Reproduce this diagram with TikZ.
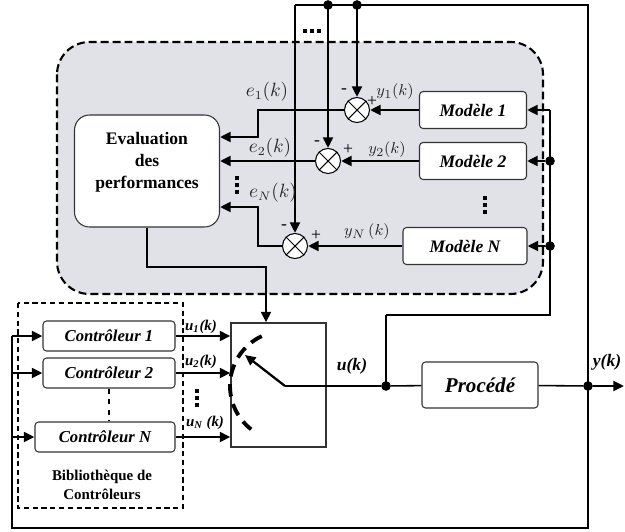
\documentclass[tikz,border=0pt]{standalone}
\usepackage{fontspec}
\setmainfont{Liberation Serif}
\usepackage{amsmath}
\usetikzlibrary{arrows.meta,positioning}
\definecolor{zonegray}{RGB}{225,226,232}

\begin{document}
\begin{tikzpicture}[x=0.02cm,y=-0.02cm,
  >={Triangle[length=6pt,width=5.5pt]},
  thickline/.style={line width=1.6pt},
  thinline/.style={line width=0.9pt},
  bloc/.style={draw=black!80,rounded corners=2pt,fill=white,line width=0.6pt,minimum height=0.74cm,font=\fontsize{10}{12}\selectfont\bfseries\itshape},
  ctrl/.style={bloc,minimum height=0.6cm,font=\fontsize{9.5}{11}\selectfont\bfseries\itshape},
  somme/.style={circle,draw=black,line width=0.6pt,fill=white,minimum size=0.5cm,inner sep=0pt},
  dot/.style={circle,fill=black,inner sep=0pt,minimum size=5.5pt},
  signe/.style={font=\fontsize{10}{12}\selectfont,inner sep=0pt},
  lab/.style={font=\fontsize{10.5}{12}\selectfont,text=black!85,inner sep=0pt},
  ylab/.style={font=\fontsize{9.5}{11}\selectfont,text=black!85,inner sep=0pt},
  ulab/.style={font=\fontsize{8.5}{10}\selectfont\bfseries\itshape,inner sep=0pt},
  pointilles/.style={line width=2.5pt,dash pattern=on 2.3pt off 1.7pt}]
% \draw[help lines] (0,0) grid[step=50] (625,531);
\useasboundingbox (0,0) rectangle (625,531);
%
% zone des modeles
\draw[line width=1.2pt,fill=zonegray,rounded corners=0.65cm,dash pattern=on 4.5pt off 2.3pt] (57,42) rectangle (543,294);
%
\node (eval) [draw=black!80,fill=white,line width=0.6pt,rounded corners=0.3cm,minimum width=2.9cm,minimum height=2.24cm,align=center,font=\fontsize{10}{12.5}\selectfont\bfseries] at (147,171) {Evaluation\\des\\performances\\ \mbox{}};
\node (mod1) [bloc,minimum width=2.14cm] at (473,110) {Modèle 1};
\node (mod2) [bloc,minimum width=2.14cm] at (473,161) {Modèle 2};
\node (modN) [bloc,minimum width=2.48cm] at (465,246) {Modèle N};
\node (s1) [somme] at (357,110) {};
\node (s2) [somme] at (328,161) {};
\node (sN) [somme] at (295,246) {};
\foreach \s in {s1,s2,sN} {
  \draw[line width=0.6pt] (\s.45) -- (\s.225);
  \draw[line width=0.6pt] (\s.135) -- (\s.315);
}
%
% bibliotheque de controleurs
\draw[line width=1pt,dash pattern=on 3pt off 2pt] (18,303) rectangle (183,508);
\node (c1) [ctrl,minimum width=2.64cm] at (109,336) {Contrôleur 1};
\node (c2) [ctrl,minimum width=2.64cm] at (109,373) {Contrôleur 2};
\node (cN) [ctrl,minimum width=2.8cm] at (105,437) {Contrôleur N};
\node (biblio) [align=center,font=\fontsize{8.5}{11}\selectfont\bfseries] at (102,485) {Bibliothèque de\\Contrôleurs};
\draw[thinline,dashed] (c2.south) -- (c2.south |- cN.north);
%
% commutateur
\node (sw) [draw=black!80,line width=0.7pt,minimum width=1.9cm,minimum height=2.48cm] at (278.5,385) {};
\coordinate (pivot) at (285,386);
\coordinate (levier) at (245,355);
\draw[->,line width=1.3pt] (pivot) -- (levier);
\draw[line width=2.2pt,dash pattern=on 7pt off 4.5pt] plot[domain=115:232,samples=40] ({285+55*cos(\x)},{386-55*sin(\x)});
%
\node (proc) [bloc,minimum width=2.32cm,minimum height=0.92cm,font=\fontsize{12}{14}\selectfont\bfseries\itshape] at (480,385) {Procédé};
%
% jonctions
\node (uj) [dot] at (386,386) {};
\node (yj) [dot] at (588,386) {};
\node (d2) [dot] at (550,161) {};
\node (dN) [dot] at (550,246) {};
\node (f2) [dot] at (328,5) {};
\node (f1) [dot] at (357,5) {};
\coordinate (fN) at (295,5);
\coordinate (m1in) at (550,110);
\coordinate (coude1) at (386,315);
\coordinate (coude2) at (550,315);
\coordinate (basgauche) at (12,528);
\coordinate (g1) at (12,336);
\coordinate (g2) at (12,373);
\coordinate (gN) at (12,437);
\coordinate (e1a) at (258,110);
\coordinate (e1b) at (258,137);
\coordinate (eNa) at (258,246);
\coordinate (eNb) at (258,207);
\coordinate (ev) at (266,267);
\coordinate (sortie) at (624,386);
%
% retour de y(k) vers les sommateurs
\draw[thinline] (yj.center) |- (f1.center);
\draw[thickline] (f1.center) -- (fN);
\draw[->,thickline] (fN) -- (sN);
\draw[->,thickline] (f2.center) -- (s2);
\draw[->,thickline] (f1.center) -- (s1);
%
\path[->,thickline] (mod1) edge (s1);
\path[->,thickline] (mod2) edge (s2);
\path[->,thickline] (modN) edge (sN);
%
\draw[->,thickline] (s1) -- (e1a) -- (e1b) -- (eval.east |- e1b);
\draw[->,thickline] (s2) -- (eval.east |- s2);
\draw[->,thickline] (sN) -- (eNa) -- (eNb) -- (eval.east |- eNb);
%
% entree u(k) des modeles
\draw[thickline] (uj.center) -- (coude1);
\draw[thinline] (coude1) -- (coude2) -- (m1in);
\path[->,thickline] (m1in) edge (mod1);
\path[->,thickline] (d2) edge (mod2);
\path[->,thickline] (dN) edge (modN);
%
\draw[->,thickline] (eval.south) |- (ev) -- (ev |- sw.north);
%
\path[->,thickline] (c1) edge (sw.west |- c1);
\path[->,thickline] (c2) edge (sw.west |- c2);
\path[->,thickline] (cN) edge (sw.west |- cN);
%
\draw[thinline] (yj.center) |- (basgauche) -- (g1);
\path[->,thickline] (g1) edge (c1);
\path[->,thickline] (g2) edge (c2);
\path[->,thickline] (gN) edge (cN);
%
\draw[thinline] (pivot) -- (uj) -- (proc);
\draw[thinline] (proc) -- (yj);
\draw[->,thickline] (yj) -- (sortie);
%
% etiquettes
\node (le1) [lab] at (267,92) {$e_1(k)$};
\node (le2) [lab] at (270,148) {$e_2(k)$};
\node (leN) [lab] at (273,193) {$e_N(k)$};
\node (ly1) [ylab] at (395,92) {$y_1(k)$};
\node (ly2) [ylab] at (387,150) {$y_2(k)$};
\node (lyN) [ylab] at (367,232) {$y_N\,(k)$};
\node (m1) [signe] at (344,91) {-};
\node (p1) [signe] at (372,102) {+};
\node (m2) [signe] at (317,143) {-};
\node (p2) [signe] at (348,150) {+};
\node (mN) [signe] at (284,227) {-};
\node (pN) [signe] at (316,236) {+};
\node (lu1) [ulab] at (201,327) {u\textsubscript{1}(k)};
\node (lu2) [ulab] at (201,362) {u\textsubscript{2}(k)};
\node (luN) [ulab] at (205,423) {u\textsubscript{N} (k)};
\node (lu) [font=\fontsize{10}{12}\selectfont\bfseries\itshape] at (352,366) {u(k)};
\node (ly) [font=\fontsize{10}{12}\selectfont\bfseries\itshape] at (607,362) {y(k)};
%
\draw[pointilles] (237,176) -- (237,194);
\draw[pointilles] (485,196) -- (485,214);
\draw[pointilles] (303,31) -- (321,31);
\draw[pointilles] (197,389) -- (197,407);
\end{tikzpicture}
\end{document}
